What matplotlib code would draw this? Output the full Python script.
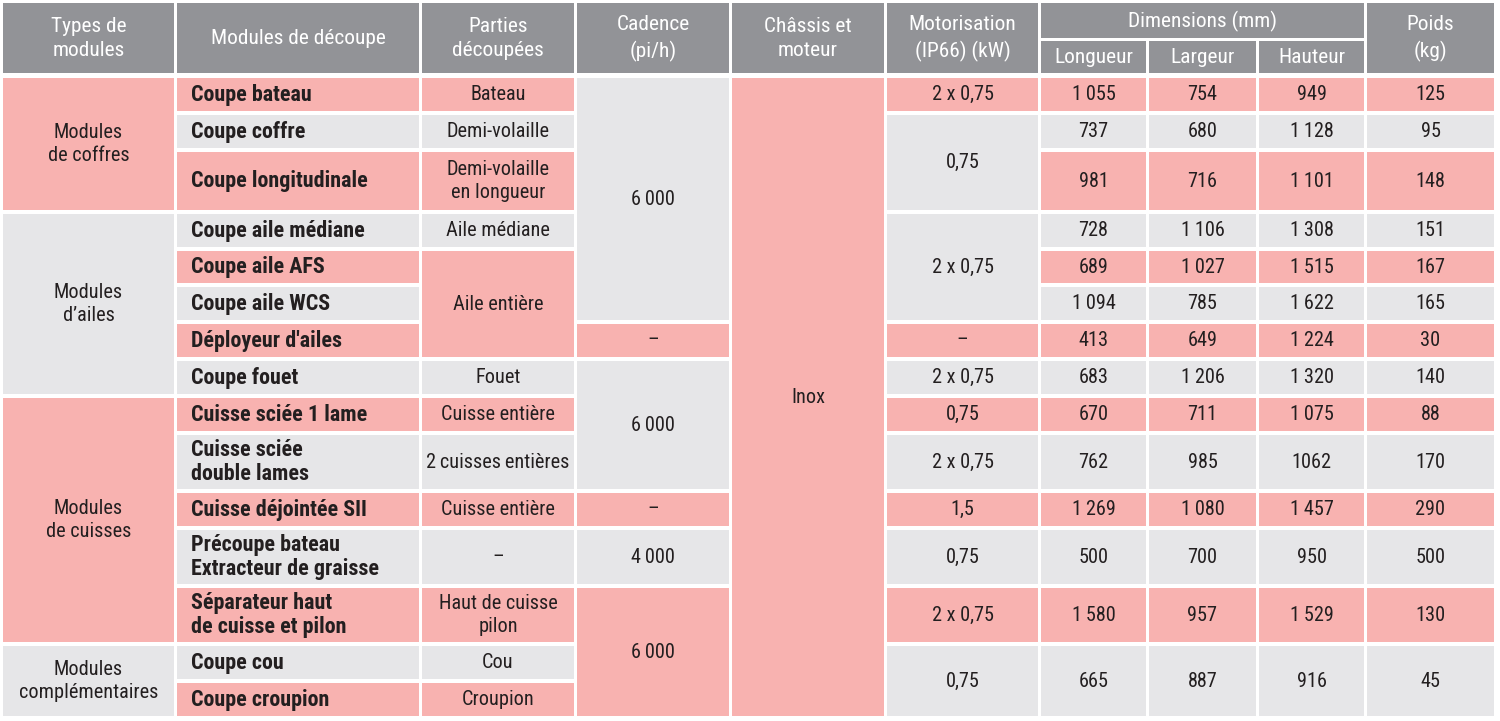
import matplotlib
matplotlib.use("Agg")
import matplotlib.pyplot as plt
from matplotlib.patches import Rectangle
from matplotlib import font_manager

# pick a narrow font if one is installed
installed = {f.name for f in font_manager.fontManager.ttflist}
FONT = next(f for f in ["Liberation Sans Narrow", "Roboto Condensed", "Roboto", "DejaVu Sans"]
            if f in installed or f == "DejaVu Sans")
plt.rcParams["font.family"] = [FONT, "DejaVu Sans"]

PINK = "#f8b2b0"
GREY = "#e6e6e8"
HEAD = "#929397"
INK = "#231f20"
TS = "\u2009"  # thin space for thousands

# ---- table contents ----
headers = ["Types de\nmodules", "Modules de découpe", "Parties\ndécoupées", "Cadence\n(pi/h)",
           "Châssis et\nmoteur", "Motorisation\n(IP66) (kW)", None, None, None, "Poids\n(kg)"]
dim_header = "Dimensions (mm)"
dim_sub = ["Longueur", "Largeur", "Hauteur"]

types = ["Modules\nde coffres", "Modules\nd’ailes", "Modules\nde cuisses", "Modules\ncomplémentaires"]
types_spans = [(0, 3), (3, 8), (8, 13), (13, 15)]
types_col = "pgpg"

modules = ["Coupe bateau", "Coupe coffre", "Coupe longitudinale", "Coupe aile médiane",
           "Coupe aile AFS", "Coupe aile WCS", "Déployeur d'ailes", "Coupe fouet",
           "Cuisse sciée 1 lame", "Cuisse sciée\ndouble lames", "Cuisse déjointée SII",
           "Précoupe bateau\nExtracteur de graisse", "Séparateur haut\nde cuisse et pilon",
           "Coupe cou", "Coupe croupion"]

parties = ["Bateau", "Demi-volaille", "Demi-volaille\nen longueur", "Aile médiane", "Aile entière",
           "Fouet", "Cuisse entière", "2 cuisses entières", "Cuisse entière", "–",
           "Haut de cuisse\npilon", "Cou", "Croupion"]
parties_spans = [(0, 1), (1, 2), (2, 3), (3, 4), (4, 7), (7, 8), (8, 9), (9, 10), (10, 11),
                 (11, 12), (12, 13), (13, 14), (14, 15)]
parties_col = "pgpgpgpgpgpgp"

cadence = ["6 000", "–", "6 000", "–", "4 000", "6 000"]
cadence_spans = [(0, 6), (6, 7), (7, 10), (10, 11), (11, 12), (12, 15)]
cadence_col = "gpgpgp"

chassis = ["Inox"]
chassis_spans = [(0, 15)]
chassis_col = "p"

moteur = ["2 x 0,75", "0,75", "2 x 0,75", "–", "2 x 0,75", "0,75", "2 x 0,75", "1,5",
          "0,75", "2 x 0,75", "0,75"]
moteur_spans = [(0, 1), (1, 3), (3, 6), (6, 7), (7, 8), (8, 9), (9, 10), (10, 11), (11, 12),
                (12, 13), (13, 15)]
moteur_col = "pggpgpgpgpg"

longueur = ["1 055", "737", "981", "728", "689", "1 094", "413", "683", "670", "762",
            "1 269", "500", "1 580", "665"]
largeur = ["754", "680", "716", "1 106", "1 027", "785", "649", "1 206", "711", "985",
           "1 080", "700", "957", "887"]
hauteur = ["949", "1 128", "1 101", "1 308", "1 515", "1 622", "1 224", "1 320", "1 075",
           "1062", "1 457", "950", "1 529", "916"]
poids = ["125", "95", "148", "151", "167", "165", "30", "140", "88", "170", "290", "500",
         "130", "45"]
dims_spans = [(i, i + 1) for i in range(13)] + [(13, 15)]
dims_col = "pgpgpgpgpgpgpg"

# ---- layout (pixels) ----
col_x = [3, 177, 422, 577, 732, 887, 1041, 1149, 1259, 1367, 1497]
row_pitch = [37, 37, 62, 37, 36, 37, 37, 37, 37, 58, 37, 58, 58, 37, 37]
GAP_X, GAP_Y = 3, 4.5
HEAD_TOP, HEAD_BOT, BODY_TOP = 3, 73, 78
FS = 14.6
FS_BOLD = 15.8
FS_HEAD = 15.4

row_y = [BODY_TOP]
for p in row_pitch:
    row_y.append(row_y[-1] + p)

fig = plt.figure(figsize=(15, 7.21), dpi=100)
ax = fig.add_axes([0, 0, 1, 1])
ax.set_xlim(0, 1500)
ax.set_ylim(721, 0)
ax.axis("off")


def cell(c0, c1, y0, y1, color, text="", bold=False, left=False, txt_color=INK, fs=FS, ls=1.25):
    x0, x1 = col_x[c0], col_x[c1] - GAP_X
    ax.add_patch(Rectangle((x0, y0), x1 - x0, y1 - y0, facecolor=color, edgecolor="none"))
    if text:
        if text[0].isdigit() and "x" not in text:
            text = text.replace(" ", TS)
        tx = x0 + 14 if left else (x0 + x1) / 2
        ax.text(tx, (y0 + y1) / 2 + 0.5, text,
                ha="left" if left else "center", va="center",
                fontsize=FS_BOLD if bold else fs, color=txt_color,
                fontweight="bold" if bold else "normal",
                linespacing=1.12 if bold else ls)


def column(c, texts, spans, colors, **kw):
    for t, (r0, r1), k in zip(texts, spans, colors):
        cell(c, c + 1, row_y[r0], row_y[r1] - GAP_Y, PINK if k == "p" else GREY, t, **kw)


# header
for c, h in enumerate(headers):
    if h is not None:
        cell(c, c + 1, HEAD_TOP, HEAD_BOT, HEAD, h, txt_color="white", fs=FS_HEAD, ls=1.38)
cell(6, 9, HEAD_TOP, 38, HEAD, dim_header, txt_color="white", fs=FS_HEAD)
for i, s in enumerate(dim_sub):
    cell(6 + i, 7 + i, 41, HEAD_BOT, HEAD, s, txt_color="white", fs=FS_HEAD)

# body
column(0, types, types_spans, types_col)
column(1, modules, [(i, i + 1) for i in range(15)], "pg" * 7 + "p", bold=True, left=True)
column(2, parties, parties_spans, parties_col)
column(3, cadence, cadence_spans, cadence_col)
column(4, chassis, chassis_spans, chassis_col)
column(5, moteur, moteur_spans, moteur_col)
for c, vals in zip(range(6, 10), [longueur, largeur, hauteur, poids]):
    column(c, vals, dims_spans, dims_col)

fig.savefig("out.png", dpi=100, facecolor="white")
